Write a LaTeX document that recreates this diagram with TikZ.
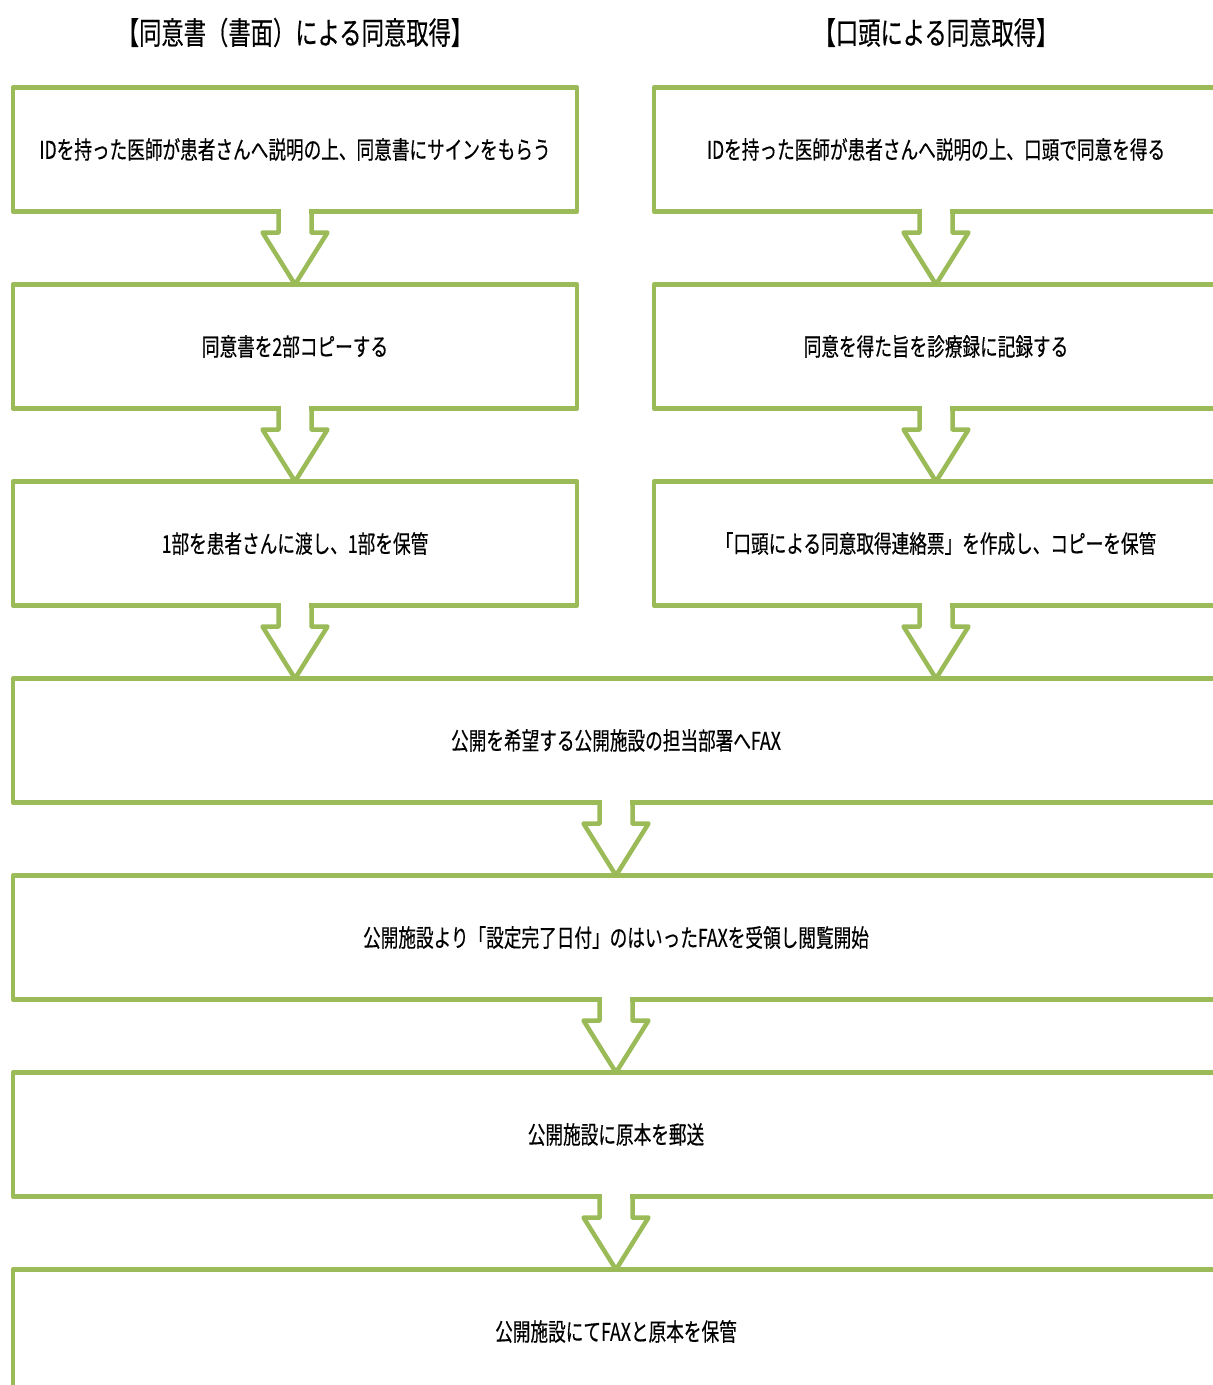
\documentclass[tikz,border=0pt]{standalone}
\usepackage{fontspec}
\newfontfamily\jpfont[FakeStretch=0.72, FakeBold=0.4]{Noto Sans CJK JP}
\usepackage{tikz}
\usetikzlibrary{positioning, calc}
\definecolor{flowgreen}{HTML}{9BBB59}

% hollow down arrow between two boxes
\newcommand{\flowarrow}[2]{%
  \fill[white] ($(#1.south)+(-14,3)$) rectangle ($(#1.south)+(14,-3)$);
  \draw[arrline] ($(#1.south)+(-16.5,0)$) -- ++(0,-21) -- ++(-16,0)
    -- (#1.south |- #2.north) -- ($(#1.south)+(32.5,-21)$) -- ++(-16,0) -- ++(0,21);
}

\begin{document}
\begin{tikzpicture}[
  x=1pt, y=1pt,
  node distance = 73pt and 77pt,
  stepbox/.style = {rectangle, draw=flowgreen, line width=4.5pt, line join=round,
                    outer sep=0pt, minimum width=564pt, minimum height=124pt,
                    align=center, font=\jpfont\fontsize{24.5}{28}\selectfont},
  widebox/.style = {stepbox, minimum width=1206pt},
  title/.style   = {font=\jpfont\fontsize{31}{36}\selectfont},
  arrline/.style = {draw=flowgreen, line width=4.5pt, line join=round}
]
  \useasboundingbox (0,0) rectangle (1213,-1385);
  \clip (0,0) rectangle (1213,-1385);

  % two columns
  \node[stepbox] (L1) at (295,-149.5) {IDを持った医師が患者さんへ説明の上、同意書にサインをもらう};
  \node[stepbox, below=of L1] (L2) {同意書を2部コピーする};
  \node[stepbox, below=of L2] (L3) {1部を患者さんに渡し、1部を保管};

  \node[stepbox, right=of L1] (R1) {IDを持った医師が患者さんへ説明の上、口頭で同意を得る};
  \node[stepbox, below=of R1] (R2) {同意を得た旨を診療録に記録する};
  \node[stepbox, below=of R2] (R3) {「口頭による同意取得連絡票」を作成し、コピーを保管};

  \node[title] (TL) at ($(L1.north)+(0,55)$) {【同意書（書面）による同意取得】};
  \node[title] (TR) at ($(R1.north)+(0,55)$) {【口頭による同意取得】};

  % common steps
  \node[widebox, below right=73pt and 0pt of L3.south west] (F4) {公開を希望する公開施設の担当部署へFAX};
  \node[widebox, below=of F4] (F5) {公開施設より「設定完了日付」のはいったFAXを受領し閲覧開始};
  \node[widebox, below=of F5] (F6) {公開施設に原本を郵送};
  \node[widebox, below=of F6] (F7) {公開施設にてFAXと原本を保管};

  \flowarrow{L1}{L2}
  \flowarrow{L2}{L3}
  \flowarrow{L3}{F4}
  \flowarrow{R1}{R2}
  \flowarrow{R2}{R3}
  \flowarrow{R3}{F4}
  \flowarrow{F4}{F5}
  \flowarrow{F5}{F6}
  \flowarrow{F6}{F7}
\end{tikzpicture}
\end{document}
